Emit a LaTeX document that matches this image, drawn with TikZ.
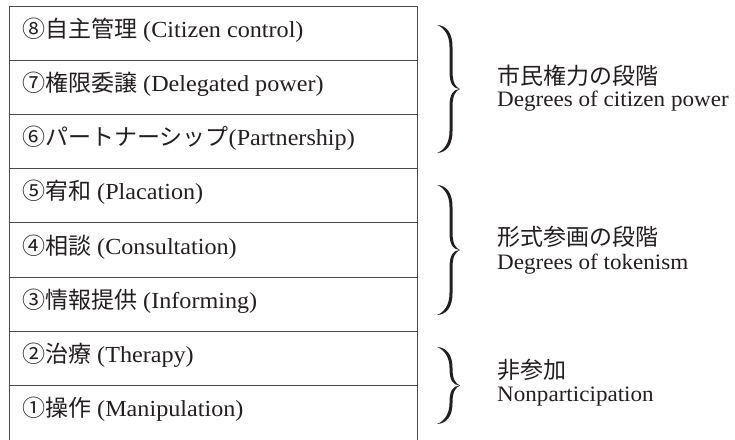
\documentclass[tikz,border=0pt]{standalone}
\usepackage{fontspec}
\setmainfont{Liberation Serif}[FakeStretch=1.05]
\newfontfamily\jpfont{Noto Sans CJK JP}
\definecolor{ink}{HTML}{231F20}
\definecolor{rule}{HTML}{4A4A4A}
\newcommand\jpt[1]{{\jpfont\fontsize{23}{28}\selectfont #1}}
\newcommand\drawbrace[4]{% name, x, top, bottom
  \pgfmathsetmacro\bm{(#4-#3)/2}
  \pgfmathsetmacro\bh{#4-#3}
  \pgfmathsetmacro\ca{min(22,0.27*\bh)}
  \pgfmathsetmacro\cb{min(18,0.22*\bh)}
  \begin{scope}[shift={(#2,#3)}]
  \fill[ink] (0,0) .. controls (9,0.5) and (15.5,7) .. (15.5,\ca)
    -- (15.5,\bm-\cb) .. controls (15.5,\bm-6) and (18.5,\bm-2) .. (23,\bm)
    .. controls (18.5,\bm+2) and (15.5,\bm+6) .. (15.5,\bm+\cb)
    -- (15.5,\bh-\ca) .. controls (15.5,\bh-7) and (9,\bh-0.5) .. (0,\bh)
    .. controls (7,\bh-2.5) and (12.5,\bh-10) .. (12.5,\bh-\ca)
    -- (12.5,\bm+\cb) .. controls (12.5,\bm+5) and (16,\bm+0.3) .. (23,\bm)
    .. controls (16,\bm-0.3) and (12.5,\bm-5) .. (12.5,\bm-\cb)
    -- (12.5,\ca) .. controls (12.5,10) and (7,2.5) .. (0,0) -- cycle;
  \coordinate (#1) at (23,\bm);
  \end{scope}}
\begin{document}
\begin{tikzpicture}[x=1pt,y=-1pt,
  rowtext/.style={anchor=base west,inner sep=0pt,text=ink,font=\fontsize{23}{26}\selectfont},
  grptext/.style={anchor=base west,inner sep=0pt,text=ink,font=\fontsize{22}{26}\selectfont},
  rowline/.style={draw=rule,line width=1pt}]
\useasboundingbox (0,0) rectangle (735,439);
\fill[white] (0,0) rectangle (735,439);
% ladder
\draw[rowline] (9,446) -- (9,6) -- (417,6) -- (417,446);
\foreach \i in {1,...,7}{
  \draw[rowline] (9,6+54.2*\i) -- (417,6+54.2*\i);
}
\node[rowtext] (r8) at (22,37.3) {\jpt{⑧自主管理} (Citizen control)};
\node[rowtext] (r7) at (22,37.3+54.2) {\jpt{⑦権限委譲} (Delegated power)};
\node[rowtext] (r6) at (22,37.3+2*54.2) {\jpt{⑥パートナーシップ}(Partnership)};
\node[rowtext] (r5) at (22,37.3+3*54.2) {\jpt{⑤宥和} (Placation)};
\node[rowtext] (r4) at (22,37.3+4*54.2) {\jpt{④相談} (Consultation)};
\node[rowtext] (r3) at (22,37.3+5*54.2) {\jpt{③情報提供} (Informing)};
\node[rowtext] (r2) at (22,37.3+6*54.2) {\jpt{②治療} (Therapy)};
\node[rowtext] (r1) at (22,37.3+7*54.2) {\jpt{①操作} (Manipulation)};
% braces
\drawbrace{b1}{437}{25}{153}
\drawbrace{b2}{437}{185}{315}
\drawbrace{b3}{437}{347}{424}
% group labels
\node[grptext] (g1j) at (497,84) {\jpt{市民権力の段階}};
\node[grptext] (g1e) at (497,106) {Degrees of citizen power};
\node[grptext] (g2j) at (497,245) {\jpt{形式参画の段階}};
\node[grptext] (g2e) at (497,269) {Degrees of tokenism};
\node[grptext] (g3j) at (497,378) {\jpt{非参加}};
\node[grptext] (g3e) at (497,401) {Nonparticipation};
\end{tikzpicture}
\end{document}
